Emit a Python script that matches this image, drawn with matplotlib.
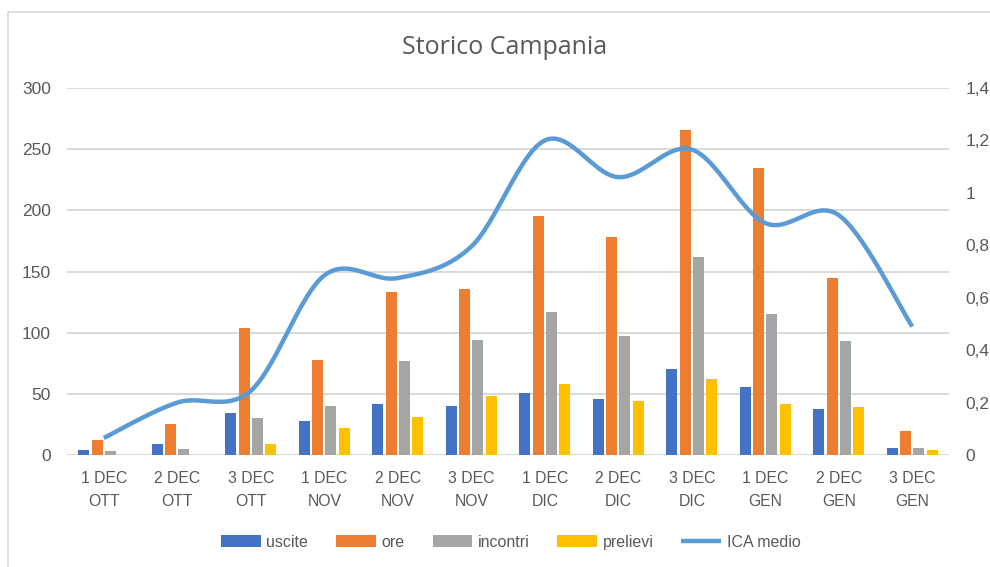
import numpy as np
import matplotlib.pyplot as plt
from matplotlib.patches import Rectangle

# dati
categorie = ["1 DEC\nOTT", "2 DEC\nOTT", "3 DEC\nOTT",
             "1 DEC\nNOV", "2 DEC\nNOV", "3 DEC\nNOV",
             "1 DEC\nDIC", "2 DEC\nDIC", "3 DEC\nDIC",
             "1 DEC\nGEN", "2 DEC\nGEN", "3 DEC\nGEN"]
uscite = [4, 9, 34, 28, 42, 40, 51, 46, 70, 56, 38, 6]
ore = [12, 25, 104, 78, 133, 136, 195, 178, 266, 235, 145, 20]
incontri = [3, 5, 30, 40, 77, 94, 117, 97, 162, 115, 93, 6]
prelievi = [0, 0, 9, 22, 31, 48, 58, 44, 62, 42, 39, 4]
ica_medio = [0.065, 0.20, 0.245, 0.685, 0.675, 0.795, 1.20, 1.06, 1.165, 0.885, 0.915, 0.49]

sx_ticks = [0, 50, 100, 150, 200, 250, 300]
dx_ticks = [0, 0.2, 0.4, 0.6, 0.8, 1.0, 1.2, 1.4]
dx_labels = ["0", "0,2", "0,4", "0,6", "0,8", "1", "1,2", "1,4"]

colori = {"uscite": "#4472C4", "ore": "#ED7D31", "incontri": "#A5A5A5",
          "prelievi": "#FFC000", "ICA medio": "#5B9BD5"}
grigio_testo = "#595959"


def smooth_line(x, y, n=30):
    """Curva liscia tipo Excel (Catmull-Rom) che passa per i punti."""
    x = np.asarray(x, float)
    y = np.asarray(y, float)
    px = np.concatenate([[x[0]], x, [x[-1]]])
    py = np.concatenate([[y[0]], y, [y[-1]]])
    xs, ys = [], []
    t = np.linspace(0, 1, n)
    for i in range(1, len(px) - 2):
        p0, p1, p2, p3 = (np.array([px[j], py[j]]) for j in range(i - 1, i + 3))
        c1 = p1 + (p2 - p0) / 6
        c2 = p2 - (p3 - p1) / 6
        pts = (((1 - t) ** 3)[:, None] * p1 + (3 * (1 - t) ** 2 * t)[:, None] * c1
               + (3 * (1 - t) * t ** 2)[:, None] * c2 + (t ** 3)[:, None] * p2)
        xs.extend(pts[:, 0])
        ys.extend(pts[:, 1])
    return np.array(xs), np.array(ys)


plt.rcParams["font.family"] = ["Liberation Sans", "DejaVu Sans"]

fig = plt.figure(figsize=(9.9, 5.67), dpi=100)
ax = fig.add_axes([0.0677, 0.1975, 0.8909, 0.6473])

x = np.arange(len(categorie))
passo = 0.18
larghezza = 0.15
serie = [("uscite", uscite), ("ore", ore), ("incontri", incontri), ("prelievi", prelievi)]
for i, (nome, valori) in enumerate(serie):
    ax.bar(x + (i - 1.5) * passo, valori, width=larghezza, color=colori[nome],
           label=nome, zorder=3)

ax.set_xlim(-0.5, len(categorie) - 0.5)
ax.set_ylim(0, 300)
ax.set_yticks(sx_ticks)
ax.set_xticks(x)
ax.set_xticklabels(categorie, linespacing=1.7)
ax.grid(axis="y", color="#D9D9D9", linewidth=1.4, zorder=0)
ax.tick_params(axis="x", length=0, colors=grigio_testo, labelsize=11.3, pad=11.5)
ax.tick_params(axis="y", length=0, colors=grigio_testo, labelsize=12.5, pad=11.5)
for s in ax.spines.values():
    s.set_visible(False)

ax2 = ax.twinx()
lx, ly = smooth_line(x, ica_medio)
ax2.plot(lx, ly, color=colori["ICA medio"], linewidth=3.2, label="ICA medio",
         solid_capstyle="butt", zorder=4)
ax2.set_ylim(0, 1.4)
ax2.set_yticks(dx_ticks)
ax2.set_yticklabels(dx_labels)
ax2.tick_params(axis="y", length=0, colors=grigio_testo, labelsize=12.5, pad=12)
for s in ax2.spines.values():
    s.set_visible(False)

fig.text(0.51, 0.917, "Storico Campania", ha="center", va="center",
         fontsize=18, color=grigio_testo, family=["Open Sans", "DejaVu Sans"])

h1, l1 = ax.get_legend_handles_labels()
h2, l2 = ax2.get_legend_handles_labels()
fig.legend(h1 + h2, l1 + l2, loc="center", bbox_to_anchor=(0.516, 0.044), ncol=5,
           frameon=False, fontsize=11.5, labelcolor=grigio_testo,
           handlelength=2.5, handleheight=0.72, handletextpad=0.33, columnspacing=1.75)

# cornice del grafico
fig.patches.append(Rectangle((8 / 990, -0.1), 1.1, 1 - 12 / 567 + 0.1,
                             transform=fig.transFigure, fill=False,
                             edgecolor="#D9D9D9", linewidth=1.2))

fig.savefig("out.png", dpi=100)
